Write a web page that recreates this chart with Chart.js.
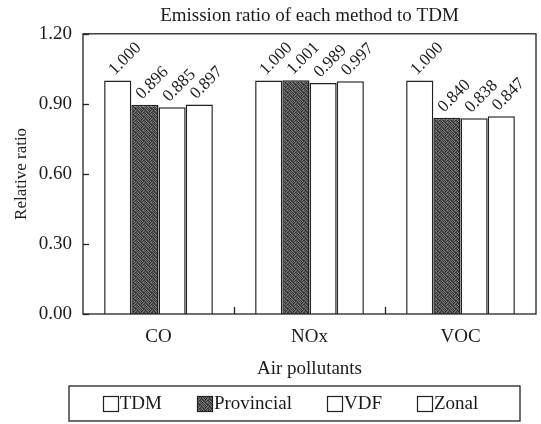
<!DOCTYPE html>
<html>
<head>
<meta charset="utf-8">
<script src="https://cdn.jsdelivr.net/npm/chart.js@4.4.1/dist/chart.umd.min.js"></script>
<style>
  html, body { margin: 0; padding: 0; background: #fff; }
  #wrap { width: 541px; height: 424px; }
</style>
</head>
<body>
<div id="wrap"><canvas id="chart" width="541" height="424"></canvas></div>
<script>
// values
const categories = ["CO", "NOx", "VOC"];
const methods = ["TDM", "Provincial", "VDF", "Zonal"];
const tdm = [1.000, 1.000, 1.000];
const provincial = [0.896, 1.001, 0.840];
const vdf = [0.885, 0.989, 0.838];
const zonal = [0.897, 0.997, 0.847];
const yTicks = [0.00, 0.30, 0.60, 0.90, 1.20];

const serif = "'Liberation Serif', 'Times New Roman', serif";
const ink = "#1a1a1a";

// stippled grey fill for the Provincial bars (fixed 8x8 tile of grey levels)
const grain = [
  50, 125, 80, 35, 105, 60, 135, 45,
  95, 40, 145, 70, 45, 115, 55, 90,
  65, 110, 30, 130, 80, 35, 100, 140,
  125, 50, 90, 60, 150, 70, 45, 80,
  40, 135, 70, 105, 50, 125, 85, 30,
  85, 60, 120, 35, 95, 55, 140, 65,
  115, 30, 80, 145, 60, 105, 40, 100,
  55, 100, 45, 75, 130, 25, 90, 125
];
function makeStipple() {
  const c = document.createElement("canvas");
  c.width = 8; c.height = 8;
  const g = c.getContext("2d");
  grain.forEach((v, i) => {
    g.fillStyle = "rgb(" + v + "," + v + "," + v + ")";
    g.fillRect(i % 8, Math.floor(i / 8), 1, 1);
  });
  return c;
}
const ctx = document.getElementById("chart").getContext("2d");
const stipple = ctx.createPattern(makeStipple(), "repeat");

const fills = ["#fff", stipple, "#fff", "#fff"];
const series = [tdm, provincial, vdf, zonal];

function line(c, x1, y1, x2, y2) {
  c.beginPath(); c.moveTo(x1, y1); c.lineTo(x2, y2); c.stroke();
}

const decor = {
  id: "decor",
  afterDatasetsDraw(chart) {
    const { ctx, chartArea: a, scales: { x, y } } = chart;
    ctx.save();
    ctx.strokeStyle = "#222";
    ctx.lineWidth = 1.3;
    ctx.strokeRect(a.left, a.top, a.right - a.left, a.bottom - a.top);

    // inward ticks on the value axis
    y.ticks.forEach(t => {
      const py = Math.round(y.getPixelForValue(t.value)) + 0.5;
      line(ctx, a.left, py, a.left + 6, py);
    });
    // short ticks between the categories
    for (let i = 1; i < categories.length; i++) {
      const px = Math.round((x.getPixelForValue(i - 1) + x.getPixelForValue(i)) / 2) + 0.5;
      line(ctx, px, a.bottom, px, a.bottom - 7);
    }

    // rotated value labels
    ctx.fillStyle = ink;
    ctx.font = "17px " + serif;
    ctx.textAlign = "left";
    ctx.textBaseline = "alphabetic";
    chart.data.datasets.forEach((ds, di) => {
      chart.getDatasetMeta(di).data.forEach((bar, i) => {
        ctx.save();
        ctx.translate(bar.x - 3, bar.y - 5);
        ctx.rotate(-Math.PI / 4);
        ctx.fillText(ds.data[i].toFixed(3), 0, 0);
        ctx.restore();
      });
    });
    ctx.restore();
  },
  afterDraw(chart) {
    // framed legend under the chart
    const { ctx } = chart;
    const box = { left: 69, top: 386, right: 520, bottom: 421 };
    const sq = 15, gap = 2, spacing = 35;
    ctx.save();
    ctx.font = "19px " + serif;
    const widths = methods.map(m => sq + gap + ctx.measureText(m).width);
    const total = widths.reduce((s, w) => s + w, 0) + spacing * (methods.length - 1);
    let cx = (box.left + box.right) / 2 - total / 2 - 4;
    const cy = (box.top + box.bottom) / 2;
    ctx.strokeStyle = "#222";
    ctx.lineWidth = 1.3;
    ctx.strokeRect(box.left, box.top, box.right - box.left, box.bottom - box.top);
    ctx.textBaseline = "middle";
    methods.forEach((m, i) => {
      const bx = Math.round(cx) + 0.5, by = Math.round(cy - sq / 2) + 0.5;
      ctx.fillStyle = fills[i];
      ctx.fillRect(bx, by, sq, sq);
      ctx.lineWidth = 1.2;
      ctx.strokeRect(bx, by, sq, sq);
      ctx.fillStyle = ink;
      ctx.fillText(m, cx + sq + gap, cy + 1);
      cx += widths[i] + spacing;
    });
    ctx.restore();
  }
};

new Chart(ctx, {
  type: "bar",
  data: {
    labels: categories,
    datasets: methods.map((m, i) => ({
      label: m,
      data: series[i],
      backgroundColor: fills[i],
      borderColor: "#222",
      borderWidth: 1.5,
      categoryPercentage: 0.72,
      barPercentage: 1.0
    }))
  },
  options: {
    responsive: false,
    devicePixelRatio: 1,
    animation: false,
    layout: { padding: { left: 0, right: 5, top: 0, bottom: 44 } },
    plugins: {
      legend: { display: false },
      tooltip: { enabled: false },
      title: {
        display: true,
        fullSize: false,
        text: "Emission ratio of each method to TDM",
        color: ink,
        font: { family: serif, size: 19, weight: "normal", lineHeight: 1.2 },
        padding: { top: 5, bottom: 6 }
      }
    },
    scales: {
      x: {
        grid: { display: false, drawTicks: false },
        border: { display: false },
        ticks: { color: ink, padding: 12, font: { family: serif, size: 19 } },
        title: {
          display: true,
          text: "Air pollutants",
          color: ink,
          font: { family: serif, size: 19, lineHeight: 1.15 },
          padding: { top: 0, bottom: 0 }
        },
        afterFit: s => { s.height = 66; }
      },
      y: {
        min: 0,
        max: 1.2,
        afterBuildTicks: s => { s.ticks = yTicks.map(v => ({ value: v })); },
        grid: { display: false, drawTicks: false },
        border: { display: false },
        ticks: {
          color: ink,
          padding: 11,
          font: { family: serif, size: 19 },
          callback: v => Number(v).toFixed(2)
        },
        title: {
          display: true,
          text: "Relative ratio",
          color: ink,
          font: { family: serif, size: 17, lineHeight: 1.15 },
          padding: { top: 12, bottom: 0 }
        },
        afterFit: s => { s.width = 83; }
      }
    }
  },
  plugins: [decor]
});
</script>
</body>
</html>
